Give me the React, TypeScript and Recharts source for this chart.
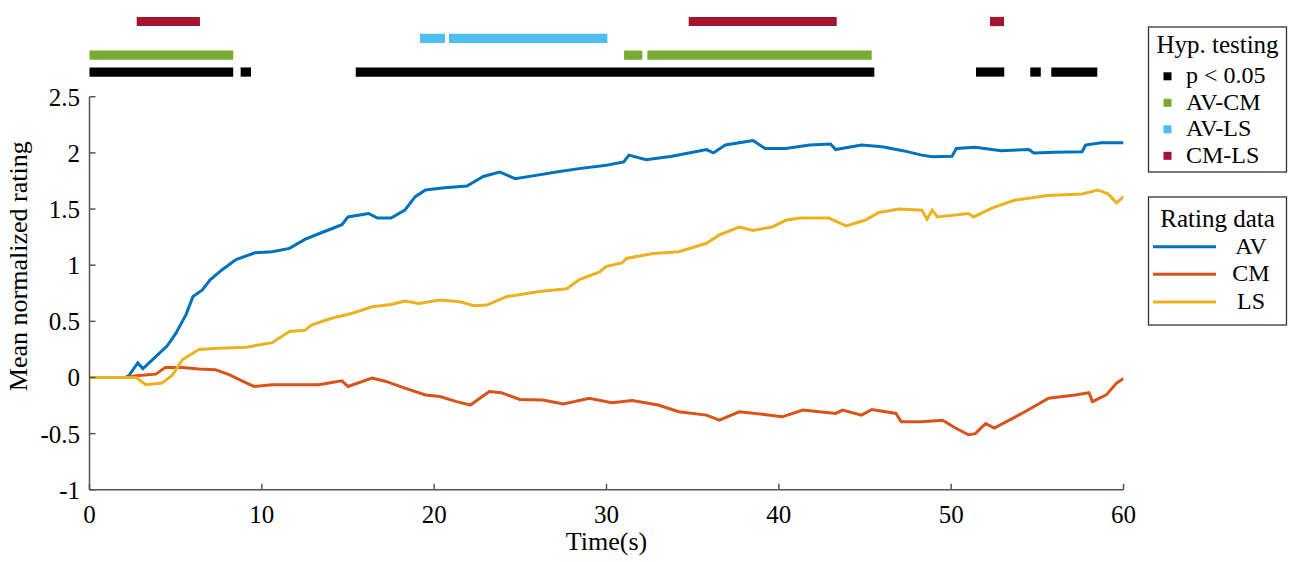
import { ComposedChart, Line, XAxis, YAxis, ReferenceArea } from 'recharts';

const W = 1300;
const H = 562;
// plot box of the rating chart, in page pixels
const PLOT_LEFT = 89.5;
const PLOT_RIGHT = 1123.5;
const PLOT_TOP = 96.75;
const PLOT_BOTTOM = 489.8;

const FONT = '"Liberation Serif", "Times New Roman", serif';

const timeTicks = [0, 10, 20, 30, 40, 50, 60];
const ratingTicks = [-1, -0.5, 0, 0.5, 1, 1.5, 2, 2.5];

// [time (s), mean normalized rating]
const avRating: [number, number][] = [
  [0, 0], [2.1, 0], [2.3, 0.02], [2.8, 0.13], [3.1, 0.08], [3.66, 0.16], [4.5, 0.28], [5.0, 0.39],
  [5.6, 0.56], [6.0, 0.72], [6.55, 0.78], [7.0, 0.87], [7.7, 0.96], [8.5, 1.05], [9.6, 1.11],
  [10.6, 1.12], [11.6, 1.15], [12.5, 1.23], [13.3, 1.28], [14.65, 1.36], [15.0, 1.43], [16.2, 1.46],
  [16.7, 1.42], [17.5, 1.42], [18.3, 1.49], [18.9, 1.61], [19.5, 1.67], [20.6, 1.69], [21.9, 1.705],
  [22.85, 1.79], [23.8, 1.83], [24.7, 1.77], [25.9, 1.8], [27.1, 1.83], [28.4, 1.86], [30.0, 1.89],
  [31.0, 1.92], [31.3, 1.98], [32.3, 1.94], [33.8, 1.97], [35.8, 2.03], [36.2, 2.0], [36.9, 2.07],
  [38.5, 2.11], [39.2, 2.04], [40.4, 2.04], [41.8, 2.07], [43.0, 2.08], [43.3, 2.03], [44.8, 2.07],
  [46.0, 2.055], [47.2, 2.02], [48.3, 1.98], [48.9, 1.965], [50.05, 1.97], [50.3, 2.04], [51.4, 2.05],
  [52.9, 2.02], [54.5, 2.03], [54.8, 2.0], [56.0, 2.005], [57.6, 2.01], [57.8, 2.07], [58.7, 2.09],
  [60, 2.09],
];

const cmRating: [number, number][] = [
  [0, 0], [2.1, 0], [2.7, 0.015], [3.85, 0.03], [4.4, 0.09], [5.4, 0.09], [6.35, 0.075], [7.3, 0.07],
  [8.1, 0.025], [8.9, -0.035], [9.55, -0.08], [10.6, -0.065], [12.1, -0.065], [13.3, -0.065],
  [14.65, -0.03], [15.0, -0.08], [16.4, -0.005], [17.2, -0.035], [18.3, -0.095], [19.5, -0.155],
  [20.34, -0.17], [21.3, -0.215], [22.1, -0.245], [23.2, -0.125], [23.9, -0.135], [24.97, -0.195],
  [26.3, -0.2], [27.5, -0.235], [29.0, -0.185], [30.3, -0.225], [31.5, -0.205], [33.0, -0.245],
  [34.2, -0.305], [35.8, -0.335], [36.55, -0.38], [37.7, -0.305], [38.9, -0.325], [40.2, -0.35],
  [41.4, -0.29], [43.3, -0.32], [43.7, -0.29], [44.8, -0.335], [45.4, -0.285], [46.8, -0.32],
  [47.1, -0.395], [48.3, -0.395], [49.5, -0.38], [50.25, -0.45], [51.0, -0.51], [51.4, -0.5],
  [52.0, -0.41], [52.5, -0.45], [54.1, -0.32], [55.65, -0.185], [57.2, -0.155], [58.0, -0.135],
  [58.2, -0.215], [59.0, -0.155], [59.6, -0.05], [60, -0.01],
];

const lsRating: [number, number][] = [
  [0, 0], [2.7, 0], [3.27, -0.065], [4.2, -0.05], [4.8, 0.02], [5.4, 0.16], [6.35, 0.25], [7.5, 0.26],
  [9.1, 0.27], [10.6, 0.31], [11.6, 0.41], [12.5, 0.42], [12.9, 0.47], [14.1, 0.53], [15.2, 0.57],
  [16.4, 0.63], [17.5, 0.65], [18.3, 0.68], [19.1, 0.66], [20.34, 0.69], [21.5, 0.675], [22.3, 0.64],
  [23.05, 0.645], [24.2, 0.72], [26.1, 0.765], [27.7, 0.79], [28.4, 0.87], [29.6, 0.94], [30.0, 0.99],
  [30.9, 1.02], [31.15, 1.06], [32.7, 1.105], [34.2, 1.12], [35.8, 1.195], [36.55, 1.27], [37.7, 1.34],
  [38.5, 1.31], [39.6, 1.34], [40.4, 1.4], [41.2, 1.42], [42.9, 1.42], [43.9, 1.35], [45.0, 1.4],
  [45.8, 1.47], [46.97, 1.5], [48.3, 1.49], [48.6, 1.41], [48.9, 1.49], [49.2, 1.43], [51.0, 1.46],
  [51.3, 1.43], [52.4, 1.51], [53.7, 1.58], [55.6, 1.62], [57.6, 1.635], [58.5, 1.67], [59.1, 1.635],
  [59.6, 1.555], [60, 1.61],
];

// significant time spans [start, end] in seconds
const pSignificant: [number, number][] = [
  [0, 8.34], [8.77, 9.37], [15.45, 45.54], [51.44, 53.08], [54.59, 55.2], [55.81, 58.48],
];
const avCmSignificant: [number, number][] = [[0, 8.34], [31.02, 32.08], [32.37, 45.39]];
const avLsSignificant: [number, number][] = [[19.18, 20.63], [20.86, 30.05]];
const cmLsSignificant: [number, number][] = [[2.74, 6.41], [34.77, 43.36], [52.25, 53.07]];

const ratingSeries = [
  { name: 'AV', color: '#0072BD', points: avRating },
  { name: 'CM', color: '#D95319', points: cmRating },
  { name: 'LS', color: '#EDB120', points: lsRating },
];

// each test gets a strip above the axes (level is in rating units, above 2.5)
const STRIP_HALF = 0.041;
const testSeries = [
  { name: 'p < 0.05', color: '#000000', level: 2.72, spans: pSignificant },
  { name: 'AV-CM', color: '#77AC30', level: 2.87, spans: avCmSignificant },
  { name: 'AV-LS', color: '#4DBEEE', level: 3.02, spans: avLsSignificant },
  { name: 'CM-LS', color: '#A2142F', level: 3.17, spans: cmLsSignificant },
];

const tickStyle = { fontSize: 25, fill: '#000', fontFamily: FONT };

const YLabel = () => (
  <text
    transform={`translate(27, ${(PLOT_TOP + PLOT_BOTTOM) / 2 - 27}) rotate(-90)`}
    textAnchor="middle"
    fontSize={26}
    fontFamily={FONT}
    fill="#000"
  >
    Mean normalized rating
  </text>
);

const RatingChart = () => (
  <ComposedChart
    width={W}
    height={H}
    margin={{ top: PLOT_TOP, right: W - PLOT_RIGHT, bottom: 0, left: 0 }}
  >
    <XAxis
      type="number"
      dataKey="t"
      domain={[0, 60]}
      ticks={timeTicks}
      allowDataOverflow
      height={H - PLOT_BOTTOM}
      stroke="#555"
      strokeWidth={1.5}
      tickSize={-6}
      tickMargin={21}
      tick={tickStyle}
      label={{ value: 'Time(s)', position: 'insideBottom', offset: 12, fontSize: 26, fill: '#000', fontFamily: FONT }}
    />
    <YAxis
      type="number"
      domain={[-1, 2.5]}
      ticks={ratingTicks}
      allowDataOverflow
      width={PLOT_LEFT}
      stroke="#555"
      strokeWidth={1.5}
      tickSize={-6}
      tickMargin={15.5}
      tick={tickStyle}
      label={YLabel}
    />
    {testSeries.flatMap((s) =>
      s.spans.map(([a, b], i) => (
        <ReferenceArea
          key={`${s.name}-${i}`}
          x1={a}
          x2={b}
          y1={s.level - STRIP_HALF}
          y2={s.level + STRIP_HALF}
          fill={s.color}
          fillOpacity={1}
          stroke="none"
          ifOverflow="visible"
        />
      )),
    )}
    {ratingSeries.map((s) => (
      <Line
        key={s.name}
        data={s.points.map(([t, v]) => ({ t, v }))}
        dataKey="v"
        name={s.name}
        type="linear"
        stroke={s.color}
        strokeWidth={3}
        dot={false}
        activeDot={false}
        isAnimationActive={false}
      />
    ))}
  </ComposedChart>
);

const Legends = () => (
  <svg width={W} height={H} style={{ position: 'absolute', left: 0, top: 0 }} fontFamily={FONT}>
    <rect x={1148.5} y={27} width={138} height={145} fill="#fff" stroke="#333" strokeWidth={1.3} />
    <text x={1217.5} y={53} textAnchor="middle" fontSize={25} fill="#000">
      Hyp. testing
    </text>
    {testSeries.map((s, i) => (
      <g key={s.name}>
        <rect x={1163.5} y={83.3 + 26.5 * i - 11} width={8} height={8} fill={s.color} />
        <text x={1186} y={83.3 + 26.5 * i} fontSize={24} fill="#000">
          {s.name}
        </text>
      </g>
    ))}

    <rect x={1148.5} y={197} width={138} height={128} fill="#fff" stroke="#333" strokeWidth={1.3} />
    <text x={1217.5} y={227} textAnchor="middle" fontSize={25} fill="#000">
      Rating data
    </text>
    {ratingSeries.map((s, i) => (
      <g key={s.name}>
        <line x1={1153} x2={1216} y1={246.7 + 27.6 * i} y2={246.7 + 27.6 * i} stroke={s.color} strokeWidth={3} />
        <text x={1251} y={253.5 + 27.8 * i} textAnchor="middle" fontSize={24} fill="#000">
          {s.name}
        </text>
      </g>
    ))}
  </svg>
);

export default function App() {
  return (
    <div style={{ position: 'absolute', left: 0, top: 0, width: W, height: H, background: '#fff' }}>
      <RatingChart />
      <Legends />
    </div>
  );
}
